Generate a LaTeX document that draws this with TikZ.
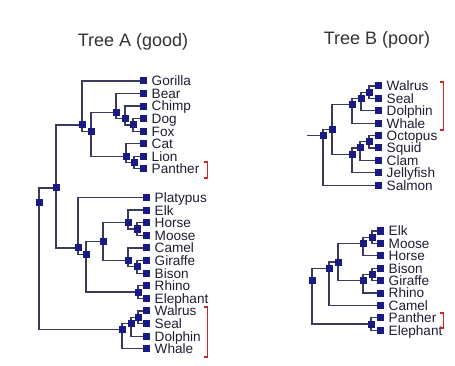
\documentclass[tikz,border=0pt]{standalone}
\usepackage{fontspec}
\setmainfont{Liberation Sans}
\usetikzlibrary{backgrounds}
\definecolor{sqblue}{HTML}{1A1A85}
\definecolor{edgec}{HTML}{3A3A5E}
\definecolor{txtc}{HTML}{1E1E34}
\definecolor{titc}{HTML}{333333}
\definecolor{brred}{HTML}{D02424}
\tikzset{
  sq/.style={rectangle, fill=sqblue, draw=none, minimum size=7pt, inner sep=0pt},
  lbl/.style={inner sep=0pt, text=txtc, font=\fontsize{13.6}{15}\selectfont},
  ttl/.style={inner sep=0pt, text=titc, font=\fontsize{18}{21}\selectfont},
  edge/.style={draw=edgec, line width=1.2pt},
  brk/.style={draw=brred, line width=1.5pt}
}
\newcommand\lf[4]{\node[sq] (#1) at (#2,#3) {};\node[lbl, anchor=base west] (#1T) at (#2+8.5,#3+4.9) {#4};}
\newcommand\inn[3]{\node[sq] (#1) at (#2,#3) {};}
\begin{document}
\begin{tikzpicture}[x=1pt,y=-1pt]
\useasboundingbox (0,0) rectangle (455,366);
% titles
\node[ttl] (titleA) at (133,42) {Tree A (good)};
\node[ttl] (titleB) at (377,40) {Tree B (poor)};
% ---------- Tree A ----------
\lf{aGorilla}{143}{81}{Gorilla}
\lf{aBear}{143}{93.6}{Bear}
\lf{aChimp}{143}{106.1}{Chimp}
\lf{aDog}{143}{118.7}{Dog}
\lf{aFox}{143}{131.2}{Fox}
\lf{aCat}{143}{143.8}{Cat}
\lf{aLion}{143}{156.3}{Lion}
\lf{aPanther}{143}{168.9}{Panther}
\lf{aPlatypus}{146}{197.5}{Platypus}
\lf{aElk}{146}{210.1}{Elk}
\lf{aHorse}{146}{222.7}{Horse}
\lf{aMoose}{146}{235.3}{Moose}
\lf{aCamel}{146}{247.9}{Camel}
\lf{aGiraffe}{146}{260.5}{Giraffe}
\lf{aBison}{146}{273.1}{Bison}
\lf{aRhino}{146}{285.7}{Rhino}
\lf{aElephant}{146}{298.3}{Elephant}
\lf{aWalrus}{146}{310.9}{Walrus}
\lf{aSeal}{146}{323.5}{Seal}
\lf{aDolphin}{146}{336.1}{Dolphin}
\lf{aWhale}{146}{348.7}{Whale}
\inn{N1}{82}{125}
\inn{N2}{91}{131.2}
\inn{N3}{116}{112.4}
\inn{N4}{125}{118.6}
\inn{N5}{133}{125}
\inn{N6}{126}{156.4}
\inn{N7}{134}{162.6}
\inn{R1}{56}{188}
\inn{R0}{39}{203}
\inn{M1}{78}{247.9}
\inn{M2}{86}{254.2}
\inn{M3}{103}{241.6}
\inn{M4}{128}{222.7}
\inn{M5}{137}{229}
\inn{M6}{128}{260.5}
\inn{M7}{137}{266.8}
\inn{M8}{138}{292}
\inn{W1}{122}{329.8}
\inn{W2}{131}{323.5}
\inn{W3}{138}{317.2}
% ---------- Tree B top ----------
\lf{bWalrus}{378}{86}{Walrus}
\lf{bSeal}{378}{98.4}{Seal}
\lf{bDolphin}{378}{110.8}{Dolphin}
\lf{bWhale}{378}{123.2}{Whale}
\lf{bOctopus}{378}{135.6}{Octopus}
\lf{bSquid}{378}{148}{Squid}
\lf{bClam}{378}{160.4}{Clam}
\lf{bJellyfish}{378}{172.8}{Jellyfish}
\lf{bSalmon}{378}{185.2}{Salmon}
\inn{B4}{369}{92.2}
\inn{B3}{361}{98.4}
\inn{B2}{352}{104.6}
\inn{B7}{369}{141.8}
\inn{B6}{360}{148}
\inn{B5}{352}{154.2}
\inn{B1}{332}{129.4}
\inn{B0}{323}{135.6}
\coordinate (bStub) at (307,135.6);
% ---------- Tree B bottom ----------
\lf{cElk}{380}{231}{Elk}
\lf{cMoose}{380}{243.4}{Moose}
\lf{cHorse}{380}{255.8}{Horse}
\lf{cBison}{380}{268.2}{Bison}
\lf{cGiraffe}{380}{280.6}{Giraffe}
\lf{cRhino}{380}{293}{Rhino}
\lf{cCamel}{380}{305.4}{Camel}
\lf{cPanther}{380}{317.8}{Panther}
\lf{cElephant}{380}{330.2}{Elephant}
\inn{C4}{372}{237.2}
\inn{C3}{363}{243.4}
\inn{C6}{372}{274.4}
\inn{C5}{363}{280.6}
\inn{C2}{338}{262}
\inn{C1}{329}{268.2}
\inn{C7}{371}{324}
\inn{C0}{312}{280.6}
% ---------- connectors ----------
\begin{scope}[on background layer]
\fill[white] (0,0) rectangle (455,366);
\foreach \p/\c in {N1/aGorilla, N1/N2, N2/N3, N2/N6, N3/aBear, N3/N4, N4/aChimp, N4/N5,
  N5/aDog, N5/aFox, N6/aCat, N6/N7, N7/aLion, N7/aPanther, R1/N1, R1/M1, R0/R1, R0/W1,
  M1/aPlatypus, M1/M2, M2/M3, M2/M8, M3/M4, M3/M6, M4/aElk, M4/M5, M5/aHorse, M5/aMoose,
  M6/aCamel, M6/M7, M7/aGiraffe, M7/aBison, M8/aRhino, M8/aElephant, W1/W2, W1/aWhale,
  W2/W3, W2/aDolphin, W3/aWalrus, W3/aSeal,
  B0/B1, B0/bSalmon, B1/B2, B1/B5, B2/B3, B2/bWhale, B3/B4, B3/bDolphin, B4/bWalrus, B4/bSeal,
  B5/B6, B5/bJellyfish, B6/B7, B6/bClam, B7/bOctopus, B7/bSquid,
  C0/C1, C0/C7, C1/C2, C1/cCamel, C2/C3, C2/C5, C3/C4, C3/cHorse, C4/cElk, C4/cMoose,
  C5/C6, C5/cRhino, C6/cBison, C6/cGiraffe, C7/cPanther, C7/cElephant}
  \draw[edge] (\p.center) |- (\c.center);
\draw[edge] (bStub) -- (B0.center);
\end{scope}
% ---------- red brackets ----------
\draw[brk] (204,162) -- (207.5,162) -- (207.5,178) -- (204,178);
\draw[brk] (204,307) -- (207.5,307) -- (207.5,357) -- (204,357);
\draw[brk] (440,82) -- (443.5,82) -- (443.5,130) -- (440,130);
\draw[brk] (440,313) -- (443.5,313) -- (443.5,328) -- (440,328);
\end{tikzpicture}
\end{document}
